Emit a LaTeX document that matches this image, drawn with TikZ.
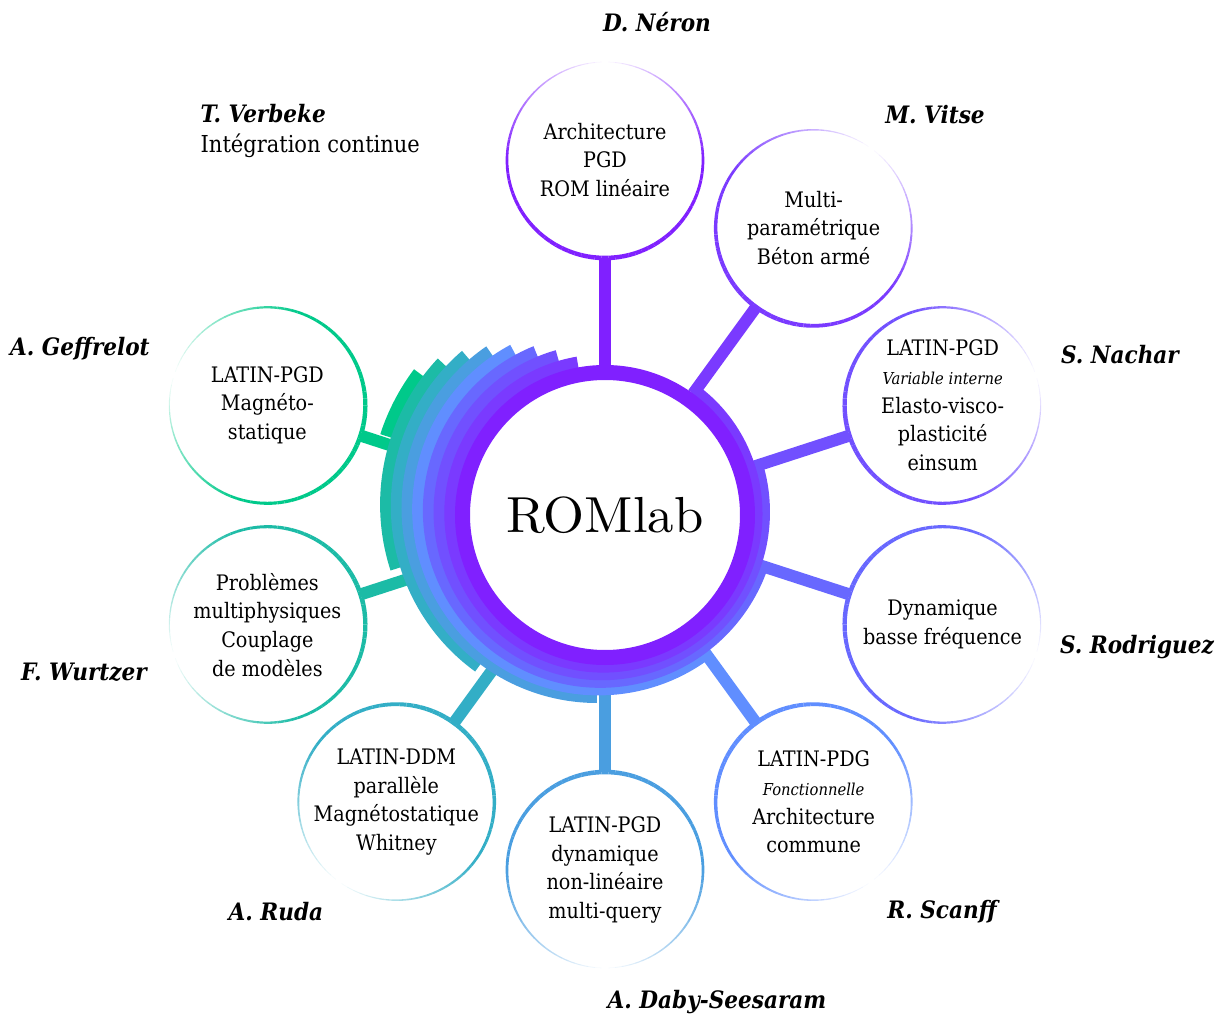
\documentclass[tikz,border=0pt]{standalone}
\usepackage{fontspec}
\newfontfamily\labfont{DejaVu Serif Condensed}
\newfontfamily\hubfont[FakeStretch=1.04]{lmroman10-regular.otf}
\usetikzlibrary{backgrounds}

\definecolor{c0}{HTML}{8020FF}
\definecolor{c1}{HTML}{7A3AFF}
\definecolor{c2}{HTML}{7150FF}
\definecolor{c3}{HTML}{6868FF}
\definecolor{c4}{HTML}{608EFF}
\definecolor{c5}{HTML}{4A9EE0}
\definecolor{c6}{HTML}{33AEC6}
\definecolor{c7}{HTML}{1CBBA6}
\definecolor{c8}{HTML}{00C98A}

\newcommand\smallit[1]{{\fontsize{12.3}{21.5}\selectfont\itshape #1}}

\begin{document}
\begin{tikzpicture}[
    x=0.75pt, y=0.75pt,
    hub/.style={circle, draw=c0, line width=11.25pt, fill=white, minimum size=213.75pt, inner sep=0pt, font=\hubfont\fontsize{38}{40}\selectfont},
    sat/.style={circle, minimum size=147pt, inner sep=0pt, align=center, font=\labfont\fontsize{16}{21.5}\selectfont},
    who/.style={font=\labfont\bfseries\itshape\fontsize{18}{22}\selectfont},
    link/.style={line width=9pt}
]
    \useasboundingbox (-605,-502) rectangle (616,515);

    % Hub and satellites
    \node[hub] (hub) at (0,0) {ROMlab};

    \node[sat] (neron)     at (90:355)   {Architecture\\PGD\\ROM linéaire};
    \node[sat] (vitse)     at (54:355)   {Multi-\\paramétrique\\Béton armé};
    \node[sat] (nachar)    at (18:355)   {LATIN-PGD\\\smallit{Variable interne}\\Elasto-visco-\\plasticité\\einsum};
    \node[sat] (rodriguez) at (-18:355)  {Dynamique\\basse fréquence};
    \node[sat] (scanff)    at (-54:355)  {LATIN-PDG\\\smallit{Fonctionnelle}\\Architecture\\commune};
    \node[sat] (daby)      at (-90:355)  {LATIN-PGD\\dynamique\\non-linéaire\\multi-query};
    \node[sat] (ruda)      at (-126:355) {LATIN-DDM\\parallèle\\Magnétostatique\\Whitney};
    \node[sat] (wurtzer)   at (-162:355) {Problèmes\\multiphysiques\\Couplage\\de modèles};
    \node[sat] (geffrelot) at (162:355)  {LATIN-PGD\\Magnéto-\\statique};

    % Names
    \node[who] (n-neron)     at (52,493)    {D. Néron};
    \node[who] (n-vitse)     at (330,400)   {M. Vitse};
    \node[who] (n-nachar)    at (515,160)   {S. Nachar};
    \node[who] (n-rodriguez) at (532,-132)  {S. Rodriguez};
    \node[who] (n-scanff)    at (337,-397)  {R. Scanff};
    \node[who] (n-daby)      at (112,-487)  {A. Daby-Seesaram};
    \node[who] (n-ruda)      at (-329,-397) {A. Ruda};
    \node[who] (n-wurtzer)   at (-521,-157) {F. Wurtzer};
    \node[who] (n-geffrelot) at (-525,166)  {A. Geffrelot};
    \node[who, anchor=west, align=left] (n-verbeke) at (-409,384)
        {T. Verbeke\\{\normalfont\labfont\fontsize{17.5}{22}\selectfont Intégration continue}};

    % Faded circle borders, strong on the hub side
    \foreach \s/\k in {neron/0, vitse/1, nachar/2, rodriguez/3, scanff/4, daby/5, ruda/6, wurtzer/7, geffrelot/8} {
        \pgfmathsetmacro\hubdir{270-36*\k}
        \foreach \a in {0,4,...,356} {
            \pgfmathsetmacro\d{abs(mod(\a+2-\hubdir+900,360)-180)}
            \pgfmathsetmacro\op{min(1,(180-\d)/90)}
            \pgfmathsetmacro\lw{0.5+3*(180-\d)/180}
            \draw[c\k, line width=\lw pt, draw opacity=\op] (\s.center) ++(\a:98) arc[start angle=\a, end angle=\a+4, radius=98];
        }
    }

    \begin{scope}[on background layer]
        % Links
        \foreach \s/\k in {neron/0, vitse/1, nachar/2, rodriguez/3, scanff/4, daby/5, ruda/6, wurtzer/7, geffrelot/8}
            \draw[link, c\k] (hub) -- (\s);
        % Stacked arcs behind the hub
        \foreach \k in {8,7,...,1} {
            \pgfmathsetmacro\rk{150+9.1*\k}
            \pgfmathsetmacro\sk{93.5+6.2*\k}
            \pgfmathsetmacro\ek{450-36*\k}
            \fill[c\k] (-1.6*\k,1.5*\k) -- ++(\sk:\rk) arc[start angle=\sk, end angle=\ek, radius=\rk] -- cycle;
        }
    \end{scope}
\end{tikzpicture}
\end{document}
